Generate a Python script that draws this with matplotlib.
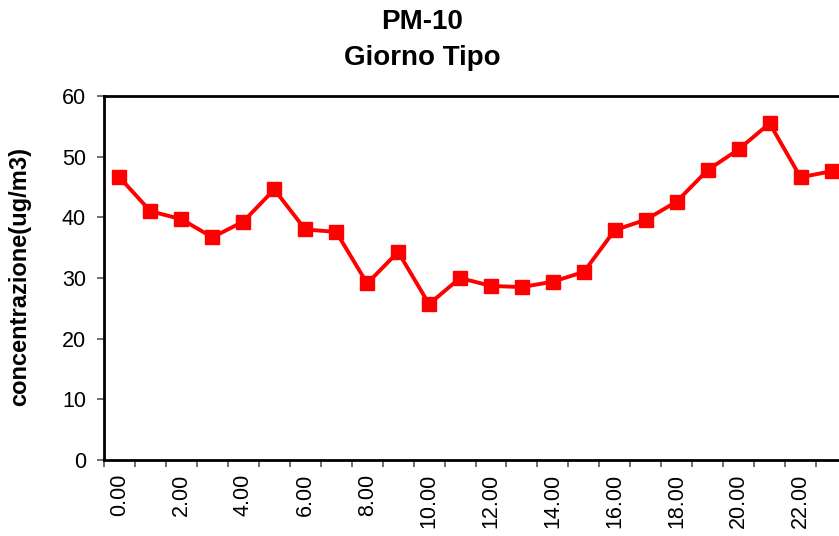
import matplotlib.pyplot as plt

plt.rcParams['font.family'] = ['Liberation Sans', 'DejaVu Sans']

# ore del giorno tipo e concentrazioni PM-10 (ug/m3)
hours = list(range(24))
pm10 = [46.6, 41.0, 39.7, 36.7, 39.3, 44.6, 38.0, 37.6, 29.1, 34.3, 25.7, 30.0,
        28.7, 28.5, 29.4, 31.0, 37.9, 39.6, 42.6, 47.8, 51.2, 55.5, 46.6, 47.6]
tick_labels = [f"{h}.00" for h in hours[::2]]

fig = plt.figure(figsize=(8.39, 5.36), dpi=100)
fig.patch.set_facecolor('white')
ax = fig.add_axes([104 / 839, 76 / 536, 743 / 839, 364 / 536])

ax.plot(hours, pm10, color='#ff0000', linewidth=2.8, marker='s',
        markersize=9.5, markeredgecolor='#ff0000', zorder=5)

ax.set_xlim(-0.5, 23.5)
ax.set_ylim(0, 60)
ax.set_yticks(range(0, 61, 10))

# tick di categoria tra i punti, etichette ogni 2 ore
ax.set_xticks([h - 0.5 for h in hours] + [23.5])
ax.set_xticklabels([])
ax.set_xticks(hours[::2], minor=True)
ax.set_xticklabels(tick_labels, minor=True, rotation=90)
ax.tick_params(axis='x', which='minor', length=0, pad=10, labelsize=15.5)
ax.tick_params(axis='x', which='major', direction='out', length=5, width=1.2, color='#555555')
ax.tick_params(axis='y', direction='out', length=5, width=1.2, color='#555555',
               labelsize=15.5, pad=8)

for s in ax.spines.values():
    s.set_linewidth(2)
    s.set_color('black')

fig.text(0.503, 1 - 22 / 536, 'PM-10', ha='center', va='center',
         fontsize=20, fontweight='bold')
fig.text(0.503, 1 - 58 / 536, 'Giorno Tipo', ha='center', va='center',
         fontsize=20, fontweight='bold')
fig.text(20 / 839, 1 - 277 / 536, 'concentrazione(ug/m3)', rotation=90,
         ha='center', va='center', fontsize=17, fontweight='bold')

plt.savefig('out.png', dpi=100)
